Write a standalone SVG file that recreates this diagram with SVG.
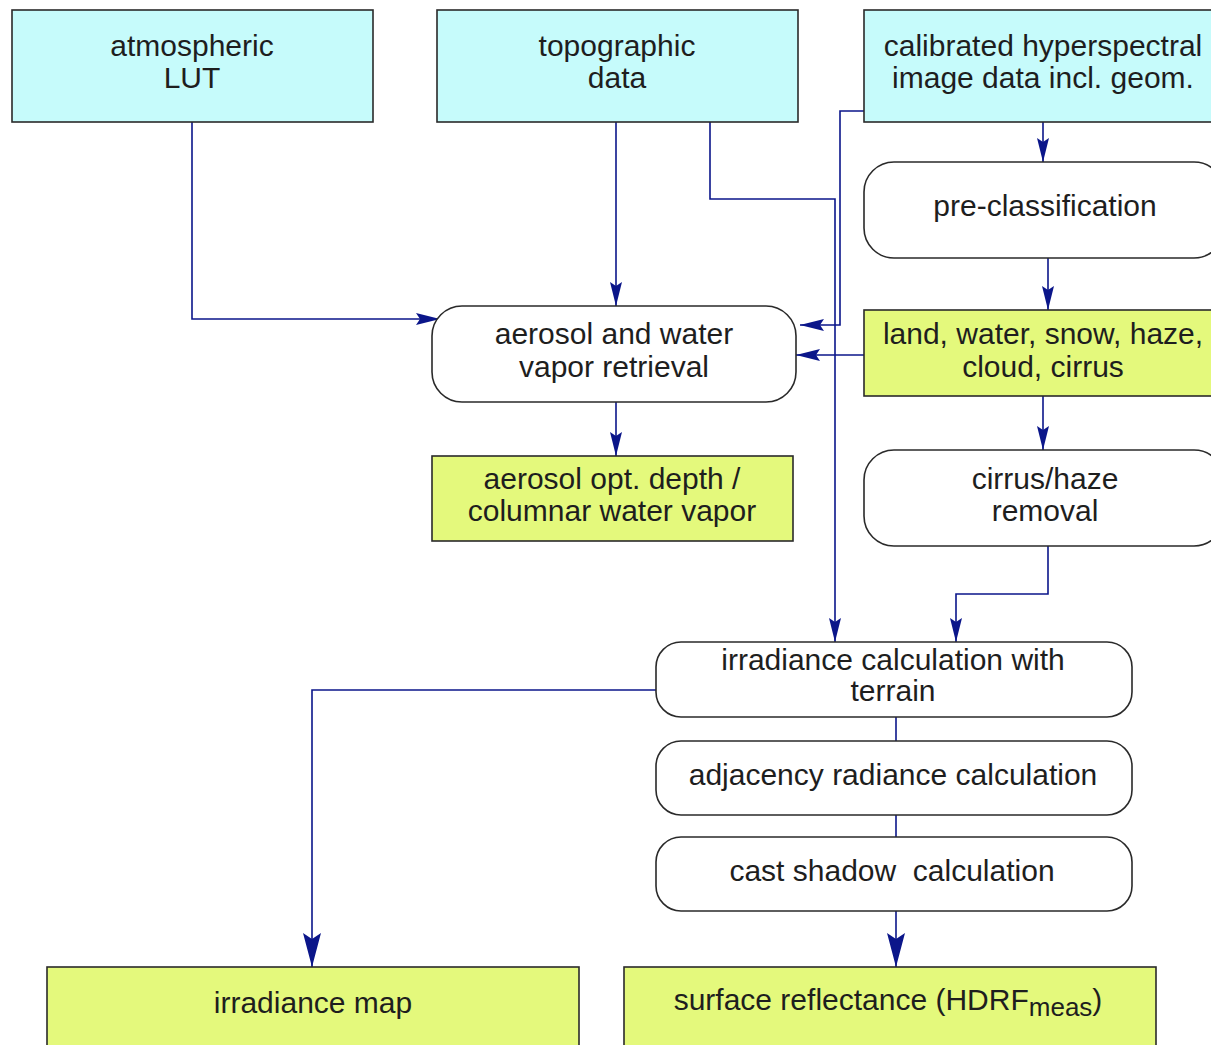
<svg xmlns="http://www.w3.org/2000/svg" width="1211" height="1045" viewBox="0 0 1211 1045">
<defs>
<style>
.box{stroke:#2a2a2a;stroke-width:1.6}
.in{fill:#c6fbfb}
.out{fill:#e4f97c}
.proc{fill:#ffffff}
text{font-family:"Liberation Sans",Arial,sans-serif;font-size:30px;fill:#1e1e1e;text-anchor:middle}
.sub{font-size:26px}
.c{fill:none;stroke:#0b168a;stroke-width:1.6}
</style>
<marker id="a" viewBox="0 0 24 12" refX="24" refY="6" markerWidth="24" markerHeight="12" markerUnits="userSpaceOnUse" orient="auto">
<path d="M0,0 L24,6 L0,12 L4,6 Z" fill="#0b168a"/>
</marker>
<marker id="b" viewBox="0 0 34 18" refX="34" refY="9" markerWidth="34" markerHeight="18" markerUnits="userSpaceOnUse" orient="auto">
<path d="M0,0 L34,9 L0,18 L6,9 Z" fill="#0b168a"/>
</marker>
</defs>
<rect width="1211" height="1045" fill="#ffffff"/>

<g id="connectors">
<path class="c" d="M192,122 V319 H440" marker-end="url(#a)"/>
<path class="c" d="M616,122 V306" marker-end="url(#a)"/>
<path class="c" d="M710,122 V199 H835 V642" marker-end="url(#a)"/>
<path class="c" d="M864,111 H840 V325 H800" marker-end="url(#a)"/>
<path class="c" d="M1043,122 V162" marker-end="url(#a)"/>
<path class="c" d="M1048,258 V310" marker-end="url(#a)"/>
<path class="c" d="M864,355 H796" marker-end="url(#a)"/>
<path class="c" d="M616,402 V456" marker-end="url(#a)"/>
<path class="c" d="M1043,396 V450" marker-end="url(#a)"/>
<path class="c" d="M1048,546 V594 H956 V642" marker-end="url(#a)"/>
<path class="c" d="M656,690 H312 V967" marker-end="url(#b)"/>
<path class="c" d="M896,717 V741"/>
<path class="c" d="M896,815 V837"/>
<path class="c" d="M896,911 V967" marker-end="url(#b)"/>
</g>

<g id="atmospheric-lut">
<rect class="box in" x="12" y="10" width="361" height="112"/>
<text x="192" y="56">atmospheric</text>
<text x="192" y="88">LUT</text>
</g>
<g id="topographic-data">
<rect class="box in" x="437" y="10" width="361" height="112"/>
<text x="617" y="56">topographic</text>
<text x="617" y="88">data</text>
</g>
<g id="calibrated-image">
<rect class="box in" x="864" y="10" width="360" height="112"/>
<text x="1043" y="56">calibrated hyperspectral</text>
<text x="1043" y="88">image data incl. geom.</text>
</g>
<g id="pre-classification">
<rect class="box proc" x="864" y="162" width="360" height="96" rx="30"/>
<text x="1045" y="216">pre-classification</text>
</g>
<g id="classes">
<rect class="box out" x="864" y="310" width="360" height="86"/>
<text x="1043" y="344">land, water, snow, haze,</text>
<text x="1043" y="377">cloud, cirrus</text>
</g>
<g id="cirrus-haze-removal">
<rect class="box proc" x="864" y="450" width="360" height="96" rx="30"/>
<text x="1045" y="489">cirrus/haze</text>
<text x="1045" y="521">removal</text>
</g>
<g id="aerosol-retrieval">
<rect class="box proc" x="432" y="306" width="364" height="96" rx="30"/>
<text x="614" y="344">aerosol and water</text>
<text x="614" y="377">vapor retrieval</text>
</g>
<g id="aerosol-depth">
<rect class="box out" x="432" y="456" width="361" height="85"/>
<text x="612" y="489">aerosol opt. depth /</text>
<text x="612" y="521">columnar water vapor</text>
</g>
<g id="irradiance-calculation">
<rect class="box proc" x="656" y="642" width="476" height="75" rx="25"/>
<text x="893" y="670">irradiance calculation with</text>
<text x="893" y="701">terrain</text>
</g>
<g id="adjacency">
<rect class="box proc" x="656" y="741" width="476" height="74" rx="25"/>
<text x="893" y="785">adjacency radiance calculation</text>
</g>
<g id="cast-shadow">
<rect class="box proc" x="656" y="837" width="476" height="74" rx="25"/>
<text x="892" y="881" xml:space="preserve">cast shadow  calculation</text>
</g>
<g id="irradiance-map">
<rect class="box out" x="47" y="967" width="532" height="90"/>
<text x="313" y="1013">irradiance map</text>
</g>
<g id="surface-reflectance">
<rect class="box out" x="624" y="967" width="532" height="90"/>
<text x="888" y="1010">surface reflectance (HDRF<tspan class="sub" dy="6">meas</tspan><tspan dy="-6">)</tspan></text>
</g>
</svg>
